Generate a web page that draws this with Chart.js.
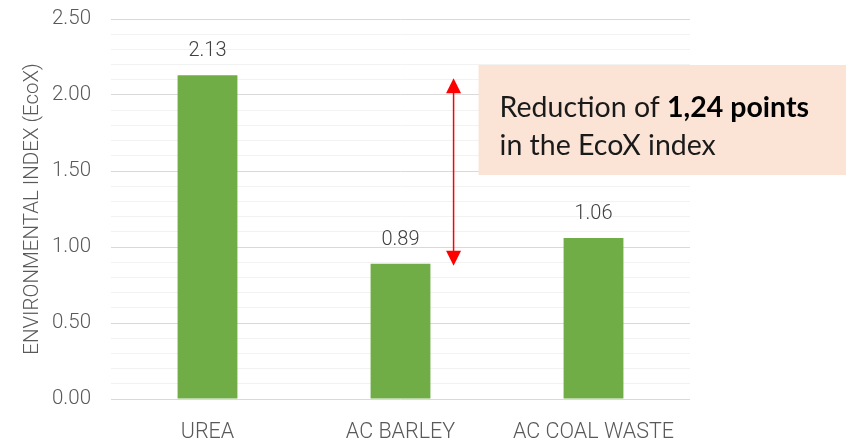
<!DOCTYPE html>
<html>
<head>
<meta charset="utf-8">
<script src="https://cdn.jsdelivr.net/npm/chart.js@4"></script>
<style>
  html, body { margin: 0; padding: 0; background: #fff; }
  #wrap { width: 846px; height: 440px; position: relative; }
</style>
</head>
<body>
<div id="wrap"><canvas id="bar-chart"></canvas></div>
<script>
var categories = ['UREA', 'AC BARLEY', 'AC COAL WASTE'];
var ecoxValues = [2.13, 0.89, 1.06];
var reductionFrom = 2.13;   // UREA
var reductionTo = 0.89;     // AC BARLEY

var textGrey = '#595959';

// value labels above each bar
var barLabels = {
  id: 'barLabels',
  afterDatasetsDraw: function (chart) {
    var c = chart.ctx;
    var meta = chart.getDatasetMeta(0);
    c.save();
    c.font = '300 20px Roboto';
    c.fillStyle = '#404040';
    c.textAlign = 'center';
    c.textBaseline = 'middle';
    meta.data.forEach(function (bar, i) {
      c.fillText(ecoxValues[i].toFixed(2), bar.x, bar.y - 24);
    });
    c.restore();
  }
};

// callout box + double headed arrow showing the drop
var reductionNote = {
  id: 'reductionNote',
  afterDraw: function (chart) {
    var c = chart.ctx;
    var xs = chart.scales.x, ys = chart.scales.y;
    var step = xs.getPixelForValue(1) - xs.getPixelForValue(0);
    var ax = xs.getPixelForValue(1) + step * 0.275;
    var yTop = ys.getPixelForValue(reductionFrom) + 3;
    var yBot = ys.getPixelForValue(reductionTo) + 2;
    c.save();

    // box
    var bx = ax + 25;
    c.fillStyle = '#fbe4d6';
    c.fillRect(bx, 65, chart.width - bx, 110);

    c.textBaseline = 'alphabetic';
    c.textAlign = 'left';
    c.font = '28.5px Lato';
    c.fillStyle = '#1a1a1a';
    var t1 = 'Reduction of ';
    c.fillText(t1, bx + 21, 117);
    var w1 = c.measureText(t1).width;
    c.font = 'bold 28.5px Lato';
    c.fillStyle = '#000';
    c.fillText('1,24 points', bx + 21 + w1, 117);
    c.font = '28.5px Lato';
    c.fillStyle = '#1a1a1a';
    c.fillText('in the EcoX index', bx + 21, 155);

    // arrow
    var hw = 7.5, hh = 15;
    c.strokeStyle = '#ff0000';
    c.fillStyle = '#ff0000';
    c.lineWidth = 1.5;
    c.beginPath();
    c.moveTo(ax, yTop + hh - 2);
    c.lineTo(ax, yBot - hh + 2);
    c.stroke();
    c.beginPath();
    c.moveTo(ax, yTop);
    c.lineTo(ax - hw, yTop + hh);
    c.lineTo(ax + hw, yTop + hh);
    c.closePath();
    c.fill();
    c.beginPath();
    c.moveTo(ax, yBot);
    c.lineTo(ax - hw, yBot - hh);
    c.lineTo(ax + hw, yBot - hh);
    c.closePath();
    c.fill();
    c.restore();
  }
};

var ctx = document.getElementById('bar-chart');

var chart = new Chart(ctx, {
  type: 'bar',
  data: {
    labels: categories,
    datasets: [{
      data: ecoxValues,
      backgroundColor: '#70ad47',
      borderWidth: 0,
      barPercentage: 0.31,
      categoryPercentage: 1.0
    }]
  },
  plugins: [barLabels, reductionNote],
  options: {
    responsive: true,
    maintainAspectRatio: false,
    animation: false,
    layout: {
      padding: { top: 19, right: 156, bottom: 0, left: 0 }
    },
    plugins: {
      legend: { display: false },
      tooltip: { enabled: false }
    },
    scales: {
      x: {
        grid: { display: false },
        border: { display: false },
        ticks: {
          color: textGrey,
          font: { family: 'Roboto', size: 21.5, weight: '300' },
          padding: 13,
          maxRotation: 0
        },
        afterFit: function (scale) { scale.height = 41; }
      },
      y: {
        min: 0,
        max: 2.5,
        border: { display: false },
        grid: {
          drawTicks: false,
          lineWidth: 1,
          color: function (c) {
            var v = Math.round(c.tick.value * 10);
            return v % 5 === 0 ? '#d9d9d9' : '#f2f2f2';
          }
        },
        ticks: {
          stepSize: 0.1,
          maxTicksLimit: 30,
          autoSkip: false,
          padding: 20,
          color: textGrey,
          font: { family: 'Roboto', size: 20.5, weight: '300' },
          callback: function (value) {
            var v = Math.round(value * 10);
            return v % 5 === 0 ? (v / 10).toFixed(2) : '';
          }
        },
        title: {
          display: true,
          text: 'ENVIRONMENTAL INDEX (EcoX)',
          color: textGrey,
          font: { family: 'Roboto', size: 20.5, weight: '300' },
          padding: { top: 21, bottom: 0 }
        },
        afterFit: function (scale) {
          scale.width = 111;
          // keep tick padding from pushing the plot area inward
          scale.paddingTop = 0;
          scale.paddingBottom = 0;
        }
      }
    }
  }
});
</script>
</body>
</html>
